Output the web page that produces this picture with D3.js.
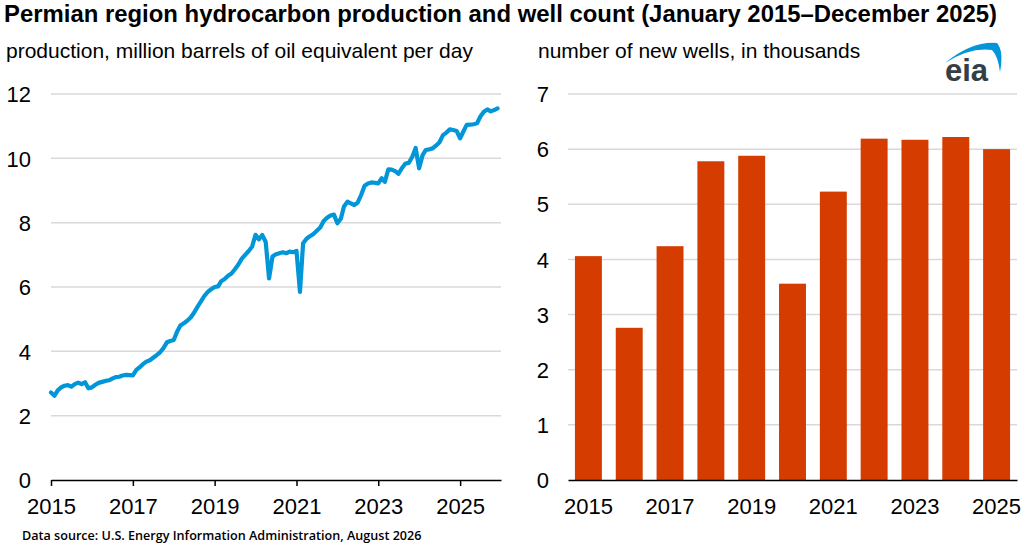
<!DOCTYPE html>
<html>
<head>
<meta charset="utf-8">
<script src="https://cdn.jsdelivr.net/npm/d3@7"></script>
<style>
  body { margin: 0; background: #fff; }
  text { font-family: "Liberation Sans", Arial, sans-serif; fill: #000; }
</style>
</head>
<body>
<div id="chart"></div>
<script>
// monthly production, million barrels of oil equivalent per day (Jan 2015 - Dec 2025)
var production = [
  2.72, 2.62, 2.78, 2.88, 2.93, 2.95, 2.90, 2.98, 3.03, 2.98, 3.04, 2.85,   // 2015
  2.88, 2.96, 3.02, 3.05, 3.08, 3.10, 3.15, 3.20, 3.21, 3.25, 3.27, 3.26,   // 2016
  3.25, 3.42, 3.50, 3.60, 3.68, 3.72, 3.80, 3.88, 3.97, 4.10, 4.28, 4.32,   // 2017
  4.35, 4.62, 4.80, 4.87, 4.95, 5.05, 5.20, 5.38, 5.55, 5.72, 5.85, 5.93,   // 2018
  6.00, 6.02, 6.18, 6.25, 6.35, 6.42, 6.55, 6.70, 6.88, 7.00, 7.12, 7.25,   // 2019
  7.62, 7.48, 7.62, 7.40, 6.27, 6.95, 7.02, 7.05, 7.08, 7.05, 7.10, 7.08,   // 2020
  7.12, 5.85, 7.36, 7.50, 7.58, 7.65, 7.75, 7.85, 8.05, 8.15, 8.22, 8.25,   // 2021
  7.98, 8.12, 8.50, 8.65, 8.60, 8.55, 8.62, 8.86, 9.15, 9.22, 9.25, 9.24,   // 2022
  9.22, 9.38, 9.27, 9.66, 9.65, 9.60, 9.52, 9.70, 9.84, 9.86, 10.05, 10.32, // 2023
  9.69, 10.10, 10.26, 10.28, 10.31, 10.40, 10.50, 10.72, 10.80, 10.90, 10.88, 10.85, // 2024
  10.62, 10.85, 11.04, 11.05, 11.06, 11.09, 11.30, 11.45, 11.52, 11.46, 11.50, 11.55 // 2025
];
var startYear = 2015;

// annual new wells, thousands
var wellYears = [2015, 2016, 2017, 2018, 2019, 2020, 2021, 2022, 2023, 2024, 2025];
var wellCounts = [4.06, 2.76, 4.24, 5.78, 5.88, 3.56, 5.23, 6.19, 6.17, 6.22, 6.00];

// tick labels
var prodTicks = [0, 2, 4, 6, 8, 10, 12];
var wellTicks = [0, 1, 2, 3, 4, 5, 6, 7];
var yearTicks = [2015, 2017, 2019, 2021, 2023, 2025];

var svgWidth = 1024;
var svgHeight = 546;
var tickFont = "22px";

var svg = d3.select("#chart").append("svg")
  .attr("width", svgWidth)
  .attr("height", svgHeight);

// titles
svg.append("text")
  .attr("x", 4).attr("y", 22)
  .style("font-size", "23.9px").style("font-weight", "bold")
  .text("Permian region hydrocarbon production and well count (January 2015\u2013December 2025)");

svg.append("text")
  .attr("x", 6).attr("y", 58)
  .style("font-size", "21px")
  .text("production, million barrels of oil equivalent per day");

svg.append("text")
  .attr("x", 538).attr("y", 58)
  .style("font-size", "21px")
  .text("number of new wells, in thousands");

svg.append("text")
  .attr("x", 22).attr("y", 540)
  .style("font-family", "'Open Sans', sans-serif")
  .style("font-size", "12.6px").style("font-weight", "600")
  .text("Data source: U.S. Energy Information Administration, August 2026");

// eia logo
var logo = svg.append("g");
logo.append("path")
  .attr("d", "M945,63 Q972,41 997,43 Q1004,51 1000,72 Q998,56 992,50 Q970,47 945,63 Z")
  .attr("fill", "#0096d7");
logo.append("text")
  .attr("x", 945).attr("y", 81)
  .style("font-size", "31px").style("font-weight", "bold")
  .style("fill", "#333f48")
  .text("eia");

// ---------- left: production line ----------
var left = { x0: 51, x1: 501, y0: 480, y1: 94 };

var xTime = d3.scaleTime()
  .domain([new Date(2015, 0, 1), new Date(2026, 0, 1)])
  .range([left.x0, left.x1]);

var yProd = d3.scaleLinear()
  .domain([0, 12])
  .range([left.y0, left.y1]);

var leftG = svg.append("g");

// gridlines
leftG.selectAll(".grid")
  .data(prodTicks.filter(d => d > 0))
  .enter().append("line")
  .attr("x1", left.x0).attr("x2", left.x1)
  .attr("y1", d => yProd(d)).attr("y2", d => yProd(d))
  .attr("stroke", "#d9d9d9").attr("stroke-width", 1.5);

var yAxisL = d3.axisLeft(yProd).tickValues(prodTicks).tickSize(0).tickPadding(0);
leftG.append("g")
  .attr("transform", "translate(31,0)")
  .call(yAxisL)
  .call(g => g.select(".domain").remove())
  .selectAll("text")
  .style("font-size", tickFont)
  .attr("dy", "0.35em");

var xAxisL = d3.axisBottom(xTime)
  .tickValues(yearTicks.map(y => new Date(y, 0, 1)))
  .tickFormat(d3.timeFormat("%Y"))
  .tickSize(6).tickSizeOuter(0).tickPadding(12);
leftG.append("g")
  .attr("transform", `translate(0, ${left.y0})`)
  .call(xAxisL)
  .call(g => g.select(".domain").attr("stroke", "#000").attr("stroke-width", 1.5))
  .call(g => g.selectAll(".tick line").attr("stroke", "#000").attr("stroke-width", 1.5))
  .selectAll("text")
  .style("font-size", tickFont);

var line = d3.line()
  .x((d, i) => xTime(new Date(startYear, i, 1)))
  .y(d => yProd(d));

leftG.append("path")
  .datum(production)
  .attr("d", line)
  .attr("fill", "none")
  .attr("stroke", "#0096d7")
  .attr("stroke-width", 4.2)
  .attr("stroke-linejoin", "round")
  .attr("stroke-linecap", "round");

// ---------- right: well count bars ----------
var right = { x0: 568, x1: 1017, y0: 480, y1: 94 };

var xBand = d3.scaleBand()
  .domain(wellYears)
  .range([right.x0, right.x1])
  .paddingInner(0.34)
  .paddingOuter(0.17);

var yWell = d3.scaleLinear()
  .domain([0, 7])
  .range([right.y0, right.y1]);

var rightG = svg.append("g");

rightG.selectAll(".grid")
  .data(wellTicks.filter(d => d > 0))
  .enter().append("line")
  .attr("x1", right.x0).attr("x2", right.x1)
  .attr("y1", d => yWell(d)).attr("y2", d => yWell(d))
  .attr("stroke", "#d9d9d9").attr("stroke-width", 1.5);

rightG.selectAll("rect")
  .data(wellCounts)
  .enter().append("rect")
  .attr("x", (d, i) => xBand(wellYears[i]))
  .attr("width", xBand.bandwidth())
  .attr("y", d => yWell(d))
  .attr("height", d => right.y0 - yWell(d))
  .attr("fill", "#d53c00");

var yAxisR = d3.axisLeft(yWell).tickValues(wellTicks).tickFormat(d3.format("d"))
  .tickSize(0).tickPadding(0);
rightG.append("g")
  .attr("transform", "translate(549,0)")
  .call(yAxisR)
  .call(g => g.select(".domain").remove())
  .selectAll("text")
  .style("font-size", tickFont)
  .attr("dy", "0.35em");

var xAxisR = d3.axisBottom(xBand)
  .tickValues(yearTicks)
  .tickSize(0).tickSizeOuter(0).tickPadding(18);
rightG.append("g")
  .attr("transform", `translate(0, ${right.y0})`)
  .call(xAxisR)
  .call(g => g.select(".domain").attr("stroke", "#000").attr("stroke-width", 1.5))
  .selectAll("text")
  .style("font-size", tickFont);

svg.selectAll(".tick text").style("fill", "#000").style("font-family", "'Liberation Sans', Arial, sans-serif");
</script>
</body>
</html>
